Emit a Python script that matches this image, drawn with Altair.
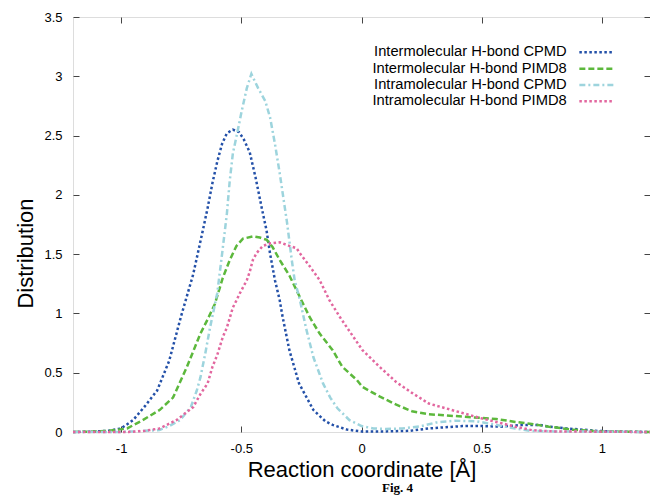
import altair as alt
import pandas as pd

series_names = [
    "Intermolecular H-bond CPMD",
    "Intermolecular H-bond PIMD8",
    "Intramolecular H-bond CPMD",
    "Intramolecular H-bond PIMD8",
]

# Intermolecular H-bond CPMD
inter_cpmd_x = [-1.2, -1.1, -1.05, -1.0, -0.95, -0.9, -0.85, -0.8, -0.75, -0.7, -0.66, -0.64, -0.62, -0.6,
                -0.58, -0.56, -0.535, -0.51, -0.49, -0.465, -0.44, -0.415, -0.395, -0.38, -0.36, -0.34,
                -0.33, -0.3, -0.26, -0.2, -0.15, -0.12, -0.06, 0.0, 0.1, 0.2, 0.28, 0.35, 0.42, 0.5,
                0.58, 0.67, 0.74, 0.78, 0.85, 0.92, 0.97, 1.05, 1.2]
inter_cpmd_y = [0, 0.005, 0.01, 0.03, 0.1, 0.22, 0.35, 0.6, 0.98, 1.33, 1.70, 1.89, 2.10, 2.28,
                2.43, 2.52, 2.55, 2.53, 2.47, 2.36, 2.14, 1.89, 1.70, 1.50, 1.28, 1.11,
                0.99, 0.69, 0.41, 0.185, 0.09, 0.06, 0.02, 0.005, 0.005, 0.01, 0.03, 0.04, 0.05, 0.05,
                0.045, 0.06, 0.06, 0.045, 0.03, 0.02, 0.01, 0.005, 0]

# Intermolecular H-bond PIMD8
inter_pimd_x = [-1.2, -1.1, -1.05, -0.975, -0.91, -0.84, -0.784, -0.726, -0.67, -0.64, -0.61, -0.577,
                -0.548, -0.52, -0.493, -0.452, -0.423, -0.394, -0.37, -0.34, -0.3, -0.257, -0.216,
                -0.174, -0.12, -0.08, -0.02, 0.004, 0.075, 0.145, 0.21, 0.28, 0.35, 0.42, 0.49, 0.56,
                0.64, 0.7, 0.78, 0.875, 0.99, 1.2]
inter_pimd_y = [0, 0.005, 0.01, 0.03, 0.1, 0.185, 0.29, 0.55, 0.83, 0.95, 1.08, 1.3,
                1.45, 1.57, 1.63, 1.65, 1.64, 1.62, 1.56, 1.45, 1.32, 1.14, 0.97,
                0.83, 0.69, 0.55, 0.44, 0.38, 0.3, 0.23, 0.175, 0.15, 0.14, 0.13, 0.12, 0.11,
                0.085, 0.07, 0.045, 0.02, 0.005, 0]

# Intramolecular H-bond CPMD
intra_cpmd_x = [-1.2, -1.0, -0.95, -0.9, -0.84, -0.8, -0.755, -0.71, -0.685, -0.67, -0.65, -0.63, -0.6,
                -0.58, -0.56, -0.548, -0.535, -0.515, -0.498, -0.477, -0.458, -0.43, -0.4, -0.38,
                -0.36, -0.34, -0.31, -0.29, -0.278, -0.257, -0.23, -0.2, -0.16, -0.13, -0.1, -0.05,
                0.0, 0.05, 0.1, 0.17, 0.25, 0.31, 0.39, 0.48, 0.56, 0.64, 0.7, 0.8, 1.2]
intra_cpmd_y = [0, 0, 0.005, 0.01, 0.017, 0.05, 0.1, 0.21, 0.35, 0.46, 0.66, 0.88, 1.17,
                1.5, 1.84, 2.12, 2.35, 2.54, 2.71, 2.9, 3.02, 2.9, 2.79, 2.65,
                2.43, 2.18, 1.77, 1.45, 1.28, 1.12, 0.87, 0.63, 0.41, 0.29, 0.2, 0.1,
                0.05, 0.03, 0.025, 0.03, 0.05, 0.08, 0.095, 0.09, 0.06, 0.03, 0.01, 0.005, 0]

# Intramolecular H-bond PIMD8
intra_pimd_x = [-1.2, -0.97, -0.9, -0.84, -0.77, -0.7, -0.67, -0.64, -0.62, -0.6, -0.577, -0.56,
                -0.535, -0.52, -0.506, -0.477, -0.465, -0.452, -0.436, -0.41, -0.38, -0.34, -0.3,
                -0.27, -0.257, -0.216, -0.174, -0.133, -0.09, -0.06, 0.004, 0.075, 0.145, 0.21,
                0.28, 0.35, 0.42, 0.49, 0.56, 0.64, 0.71, 0.8, 1.2]
intra_pimd_y = [0, 0, 0.01, 0.03, 0.1, 0.21, 0.32, 0.41, 0.55, 0.65, 0.8, 0.88,
                1.05, 1.11, 1.17, 1.28, 1.35, 1.45, 1.51, 1.57, 1.59, 1.6, 1.57,
                1.55, 1.51, 1.4, 1.28, 1.11, 0.97, 0.88, 0.69, 0.55, 0.42, 0.33,
                0.24, 0.2, 0.16, 0.12, 0.085, 0.045, 0.015, 0.005, 0]

x_ticks = [-1, -0.5, 0, 0.5, 1]
y_ticks = [0, 0.5, 1, 1.5, 2, 2.5, 3, 3.5]

colors = ["#2350a8", "#5cb83c", "#9dd4dd", "#e2679f"]
dashes = [[2.5, 2.5], [6, 3], [6, 3, 2, 3], [2.5, 2.5]]

rows = []
for name, xs, ys in [
    (series_names[0], inter_cpmd_x, inter_cpmd_y),
    (series_names[1], inter_pimd_x, inter_pimd_y),
    (series_names[2], intra_cpmd_x, intra_cpmd_y),
    (series_names[3], intra_pimd_x, intra_pimd_y),
]:
    for xv, yv in zip(xs, ys):
        rows.append({"series": name, "x": xv, "y": yv})
df = pd.DataFrame(rows)

FONT = "Liberation Sans"
xscale = alt.Scale(domain=[-1.2, 1.2], nice=False, zero=False)
yscale = alt.Scale(domain=[0, 3.5], nice=False, zero=False)

# legend: labels right-aligned, line sample drawn to the right of the labels
legend = alt.Legend(
    title=None,
    orient="none",
    legendX=479,
    legendY=28,
    padding=0,
    symbolType="M4,0H10.8",
    symbolSize=100,
    symbolStrokeWidth=2.5,
    symbolOffset=0,
    labelAlign="right",
    labelOffset=0,
    labelFont=FONT,
    labelFontSize=14.7,
    labelColor="black",
    labelLimit=400,
    rowPadding=0.3,
)

lines = alt.Chart(df).mark_line(strokeWidth=2.5).encode(
    x=alt.X("x:Q", scale=xscale,
            axis=alt.Axis(orient="bottom", values=x_ticks, offset=-6, tickSize=6, domain=False,
                          grid=False, labelPadding=10, labelExpr="'' + datum.value",
                          labelFont=FONT, labelFontSize=13, labelColor="black",
                          tickColor="#444",
                          title="Reaction coordinate [Å]", titleFont=FONT, titleFontSize=22,
                          titleFontWeight="normal", titleColor="black",
                          titleY=50, titleBaseline="alphabetic")),
    y=alt.Y("y:Q", scale=yscale,
            axis=alt.Axis(orient="left", values=y_ticks, offset=-6, tickSize=6, domain=False,
                          grid=False, labelPadding=11, labelExpr="'' + datum.value",
                          labelFont=FONT, labelFontSize=13, labelColor="black",
                          tickColor="#444",
                          title="Distribution", titleFont=FONT, titleFontSize=22,
                          titleFontWeight="normal", titleColor="black",
                          titleAngle=270, titleX=-54, titleY=236,
                          titleAlign="center", titleBaseline="middle")),
    color=alt.Color("series:N", scale=alt.Scale(domain=series_names, range=colors), legend=legend),
    strokeDash=alt.StrokeDash("series:N", scale=alt.Scale(domain=series_names, range=dashes), legend=legend),
)

mirror = alt.Chart(df).mark_line(opacity=0).encode(
    x=alt.X("x:Q", scale=xscale,
            axis=alt.Axis(orient="top", values=x_ticks, offset=-6, tickSize=6, domain=False,
                          grid=False, labels=False, tickColor="#444", title=None)),
    y=alt.Y("y:Q", scale=yscale,
            axis=alt.Axis(orient="right", values=y_ticks, offset=-6, tickSize=6, domain=False,
                          grid=False, labels=False, tickColor="#444", title=None)),
    detail="series:N",
)

chart = alt.layer(lines, mirror).resolve_axis(
    x="independent", y="independent"
).properties(
    width=577,
    height=415,
    padding={"left": 73, "top": 17, "right": 0, "bottom": 65},
    autosize=alt.AutoSizeParams(type="none"),
    title=alt.TitleParams("Fig. 4", orient="bottom", anchor="middle", frame="group",
                          font="Liberation Serif", fontWeight="bold", fontSize=13,
                          color="black", dx=36, offset=2, baseline="top"),
).configure_view(stroke="#444", strokeWidth=1).configure(background="white")

chart.save("out.html", embed_options={"renderer": "svg", "actions": False})
